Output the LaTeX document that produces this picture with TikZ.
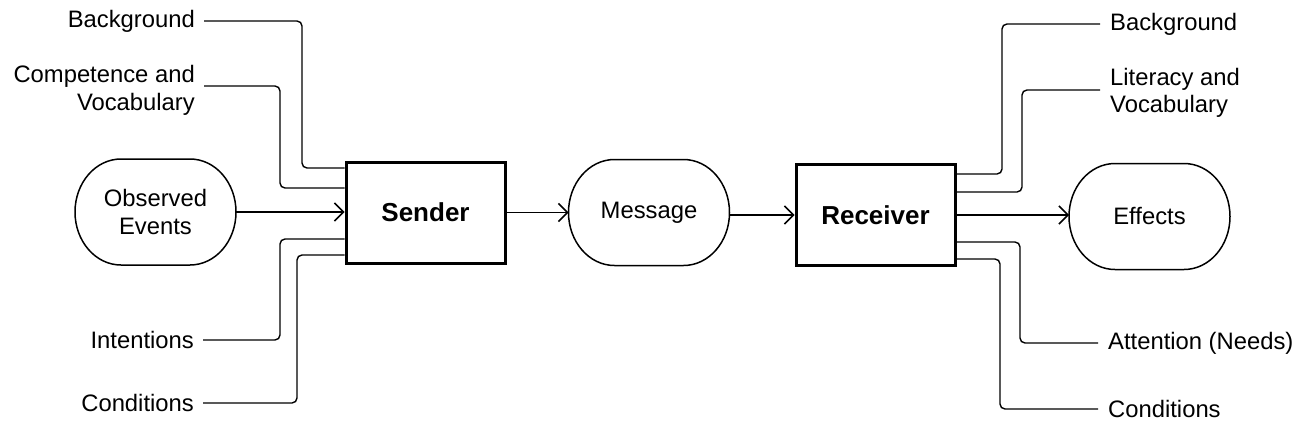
\documentclass[tikz,border=0pt]{standalone}
\usepackage{fontspec}
\setmainfont{Liberation Sans}
\usetikzlibrary{arrows.meta}
\newcommand{\pilloutline}[1]{%
  \draw[line width=1.5pt]
    ([xshift=46pt]#1.north west) -- ([xshift=-46pt]#1.north east)
    arc[start angle=90, end angle=-90, x radius=46pt, y radius=53pt]
    -- ([xshift=46pt]#1.south west)
    arc[start angle=270, end angle=90, x radius=46pt, y radius=53pt]
    -- cycle;}
\begin{document}
\begin{tikzpicture}[x=1pt,y=-1pt,
  txt/.style={font=\fontsize{23.8}{27.5}\selectfont, inner sep=0pt},
  lab/.style={txt, align=right, anchor=east, inner xsep=9pt},
  rlab/.style={txt, align=left, anchor=west, inner xsep=10pt},
  pill/.style={minimum width=161pt, minimum height=106pt, inner sep=0pt,
    outer sep=0pt, txt, align=center},
  block/.style={draw, line width=3pt, minimum width=159pt, minimum height=101pt,
    font=\fontsize{26}{30}\selectfont\bfseries},
  feed/.style={line width=1.4pt, rounded corners=5pt},
  flow/.style={line width=1.5pt,
    -{Straight Barb[length=9pt,width=18pt,line width=1.5pt]}}]
\useasboundingbox (0,0) rectangle (1298,434);

% main chain
\node[pill]  (obs)      at (155.5,212)   {Observed\\Events};
\node[block] (sender)   at (425.5,212.5) {Sender};
\node[pill]  (msg)      at (649,212.5)   {Message};
\node[block] (receiver) at (875.5,215)   {Receiver};
\node[pill]  (eff)      at (1149.5,216.5){Effects};
\pilloutline{obs}
\pilloutline{msg}
\pilloutline{eff}

\draw[flow] (obs.east) -- (obs.east -| sender.west);
\draw[flow, line width=1.2pt] (sender.east) -- (sender.east -| msg.west);
\draw[flow] ([yshift=-2.5pt]msg.east) -- ([yshift=-2.5pt]msg.east -| receiver.west);
\draw[flow] (receiver.east) -- (receiver.east -| eff.west);

% sender factors
\node[lab] (lbg)   at (204,21)   {Background};
\node[lab] (lcomp) at (204,90.5) {Competence and\\Vocabulary};
\node[lab] (lint)  at (203,340)  {Intentions};
\node[lab] (lcond) at (203,403)  {Conditions};

\draw[feed] (lbg.east) -| (302,168) -- ([yshift=44.5pt]sender.west);
\draw[feed] ([yshift=4.5pt]lcomp.east) -| (280,188) -- ([yshift=24.5pt]sender.west);
\draw[feed] (lint.east) -| (280,239) -- ([yshift=-26.5pt]sender.west);
\draw[feed] (lcond.east) -| (297,255) -- ([yshift=-42.5pt]sender.west);

% receiver factors
\node[rlab] (rbg)   at (1100,24) {Background};
\node[rlab] (rlit)  at (1100,93) {Literacy and\\Vocabulary};
\node[rlab] (ratt)  at (1098,343){Attention (Needs)};
\node[rlab] (rcond) at (1098,409){Conditions};

\draw[feed] ([yshift=41pt]receiver.east) -| (1002,24) -- (rbg.west);
\draw[feed] ([yshift=23pt]receiver.east) -| (1022,90) -- ([yshift=3pt]rlit.west);
\draw[feed] ([yshift=-27pt]receiver.east) -| (1020,343) -- (ratt.west);
\draw[feed] ([yshift=-44pt]receiver.east) -| (1000,409) -- (rcond.west);
\end{tikzpicture}
\end{document}
